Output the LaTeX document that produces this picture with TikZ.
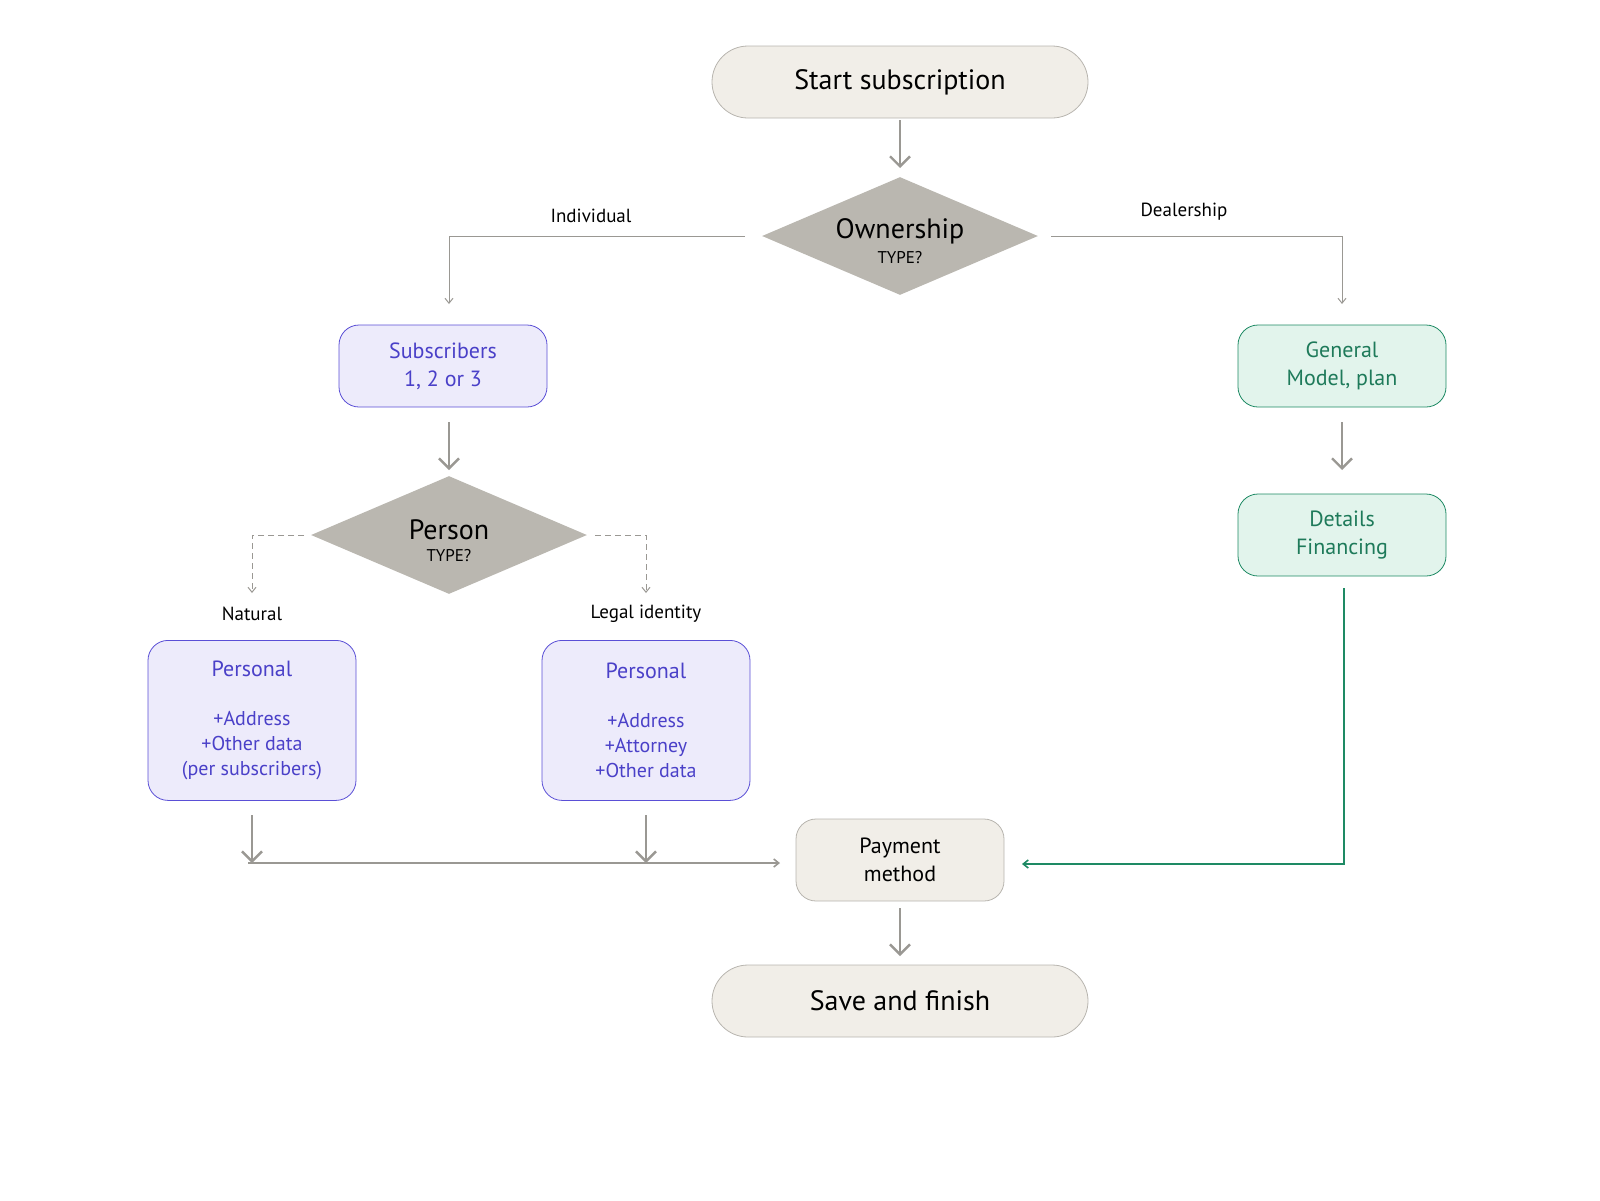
\documentclass[tikz,border=0pt]{standalone}
\usepackage{fontspec}
\setmainfont{PT Sans}
\usetikzlibrary{shapes.geometric,arrows.meta}
\definecolor{beige}{HTML}{F1EEE8}
\definecolor{beiged}{HTML}{B8B5AF}
\definecolor{dia}{HTML}{BAB7B0}
\definecolor{pfill}{HTML}{EDEBFB}
\definecolor{pdraw}{HTML}{5A4FD6}
\definecolor{ptext}{HTML}{4A40C8}
\definecolor{gfill}{HTML}{E2F4EC}
\definecolor{gdraw}{HTML}{1E8A64}
\definecolor{gtext}{HTML}{1E7A5A}
\definecolor{ln}{HTML}{9A9893}
\tikzset{
 term/.style={draw=beiged,fill=beige,rounded corners=18pt,minimum width=188pt,minimum height=36pt,font=\fontsize{14}{16}\selectfont},
 dec/.style={diamond,fill=dia,minimum width=138pt,minimum height=59pt,inner sep=0pt,aspect=2.34,align=center},
 pbox/.style={draw=pdraw,fill=pfill,text=ptext,rounded corners=10pt,minimum width=104pt,align=center,font=\fontsize{11}{14}\selectfont},
 gbox/.style={draw=gdraw,fill=gfill,text=gtext,rounded corners=10pt,minimum width=104pt,minimum height=41pt,align=center,font=\fontsize{11}{14}\selectfont},
 big/.style={draw=ln,line width=1.2pt,-{Straight Barb[length=5pt,width=10pt]}},
 thin/.style={draw=ln,line width=0.5pt,-{Straight Barb[length=2.5pt,width=4pt]}},
 lbl/.style={font=\fontsize{9.5}{11}\selectfont}
}
\begin{document}
\begin{tikzpicture}[x=0.5pt,y=-0.5pt]
\useasboundingbox (0,0) rectangle (1600,1200);
\node[term] (start) at (900,82) {Start subscription};
\node[dec] (own) at (900,236) {};
\node at (900,231) {\fontsize{14}{16}\selectfont Ownership};
\node at (900,258) {\fontsize{8.5}{10}\selectfont TYPE?};
\node[lbl] (ind) at (591,216) {Individual};
\node[lbl] (deal) at (1184,212) {Dealership};
\node[pbox,minimum height=41pt] (sub) at (443,366) {Subscribers\\1, 2 or 3};
\node[dec] (per) at (449,535) {};
\node at (449,530) {\fontsize{14}{16}\selectfont Person};
\node at (449,556) {\fontsize{8.5}{10}\selectfont TYPE?};
\node[lbl] (nat) at (252,614) {Natural};
\node[lbl] (leg) at (646,614) {Legal identity};
\node[pbox,minimum height=80pt,font=\fontsize{10}{12.5}\selectfont,anchor=north] (p1) at (252,640) {\fontsize{11}{14}\selectfont Personal\\[12pt]+Address\\+Other data\\(per subscribers)};
\node[pbox,minimum height=80pt,font=\fontsize{10}{12.5}\selectfont,anchor=north] (p2) at (646,640) {\fontsize{11}{14}\selectfont Personal\\[12pt]+Address\\+Attorney\\+Other data};
\node[term,minimum width=104pt,minimum height=41pt,rounded corners=10pt,align=center,font=\fontsize{11}{14}\selectfont] (pay) at (900,860) {Payment\\method};
\node[gbox] (gen) at (1342,366) {General\\Model, plan};
\node[gbox] (det) at (1342,535) {Details\\Financing};
\node[term] (save) at (900,1001) {Save and finish};
\coordinate (a1) at (900,120); \coordinate (a2) at (900,168);
\draw[big] (a1) -- (a2);
\coordinate (l1) at (745,236); \coordinate (l2) at (449,304);
\draw[thin] (l1) -| (l2);
\coordinate (r1) at (1051,236); \coordinate (r2) at (1342,304);
\draw[thin] (r1) -| (r2);
\coordinate (b1) at (449,422); \coordinate (b2) at (449,470);
\draw[big] (b1) -- (b2);
\coordinate (d1) at (304,535); \coordinate (d2) at (252,593);
\draw[thin,dashed,dash pattern=on 3pt off 2pt] (d1) -| (d2);
\coordinate (e1) at (595,535); \coordinate (e2) at (646,593);
\draw[thin,dashed,dash pattern=on 3pt off 2pt] (e1) -| (e2);
\coordinate (f1) at (252,815); \coordinate (f2) at (252,863);
\draw[big] (f1) -- (f2);
\coordinate (g1) at (646,815); \coordinate (g2) at (646,863);
\draw[big] (g1) -- (g2);
\coordinate (h1) at (248,863); \coordinate (h2) at (780,863);
\draw[thin,line width=0.8pt] (h1) -- (h2);
\coordinate (i1) at (1342,422); \coordinate (i2) at (1342,470);
\draw[big] (i1) -- (i2);
\coordinate (j1) at (1344,588); \coordinate (j2) at (1022,864);
\draw[thin,draw=gdraw,line width=0.8pt] (j1) |- (j2);
\coordinate (k1) at (900,908); \coordinate (k2) at (900,956);
\draw[big] (k1) -- (k2);
\end{tikzpicture}
\end{document}
